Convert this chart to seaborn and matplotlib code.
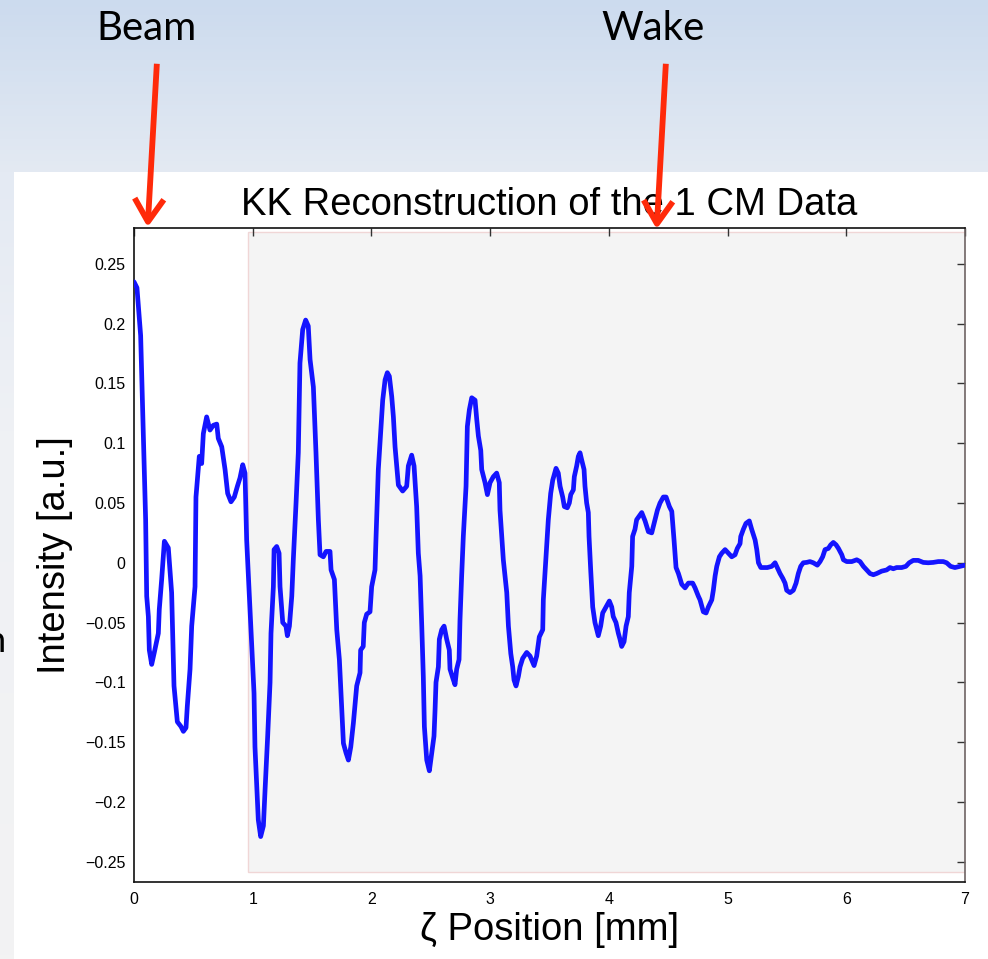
import numpy as np
import pandas as pd
import seaborn as sns
import matplotlib
matplotlib.use("Agg")
import matplotlib.pyplot as plt
from matplotlib.patches import Rectangle, FancyArrowPatch
from matplotlib.colors import LinearSegmentedColormap

# Reconstructed longitudinal profile (zeta in mm, intensity in a.u.)
zeta_mm = [
    0.000, 0.025, 0.056, 0.079, 0.098, 0.107, 0.121, 0.129, 0.149, 0.171, 0.205, 0.213, 0.233,
    0.245, 0.256, 0.289, 0.317, 0.337, 0.365, 0.396, 0.416, 0.438, 0.449, 0.472, 0.486, 0.514,
    0.522, 0.550, 0.570, 0.584, 0.612, 0.640, 0.668, 0.697, 0.710, 0.739, 0.767, 0.789, 0.817,
    0.845, 0.871, 0.893, 0.916, 0.935, 0.949, 0.991, 1.011, 1.019, 1.047, 1.067, 1.090, 1.104,
    1.126, 1.146, 1.154, 1.174, 1.180, 1.202, 1.222, 1.230, 1.253, 1.280, 1.292, 1.309, 1.329,
    1.342, 1.365, 1.384, 1.398, 1.421, 1.446, 1.468, 1.483, 1.511, 1.533, 1.553, 1.567, 1.595,
    1.618, 1.651, 1.660, 1.688, 1.708, 1.730, 1.750, 1.764, 1.786, 1.806, 1.826, 1.848, 1.876,
    1.904, 1.909, 1.931, 1.940, 1.960, 1.988, 2.002, 2.030, 2.039, 2.058, 2.095, 2.115, 2.134,
    2.151, 2.171, 2.185, 2.199, 2.227, 2.263, 2.297, 2.311, 2.339, 2.359, 2.381, 2.395, 2.410,
    2.424, 2.437, 2.446, 2.466, 2.488, 2.508, 2.527, 2.536, 2.544, 2.564, 2.572, 2.592, 2.612,
    2.634, 2.656, 2.662, 2.684, 2.704, 2.718, 2.738, 2.746, 2.760, 2.774, 2.797, 2.808, 2.825,
    2.845, 2.873, 2.887, 2.901, 2.921, 2.929, 2.957, 2.977, 2.999, 3.027, 3.055, 3.077, 3.083,
    3.111, 3.140, 3.154, 3.174, 3.190, 3.201, 3.218, 3.238, 3.252, 3.274, 3.308, 3.336, 3.370,
    3.392, 3.414, 3.443, 3.448, 3.462, 3.490, 3.510, 3.527, 3.555, 3.574, 3.589, 3.611, 3.625,
    3.650, 3.667, 3.679, 3.701, 3.709, 3.729, 3.743, 3.757, 3.771, 3.791, 3.799, 3.813, 3.827,
    3.833, 3.847, 3.864, 3.883, 3.911, 3.931, 3.948, 3.976, 4.004, 4.024, 4.037, 4.060, 4.080,
    4.094, 4.108, 4.128, 4.145, 4.164, 4.172, 4.193, 4.200, 4.220, 4.234, 4.256, 4.277, 4.305,
    4.333, 4.361, 4.389, 4.409, 4.431, 4.459, 4.482, 4.510, 4.530, 4.549, 4.566, 4.586, 4.614,
    4.642, 4.670, 4.706, 4.726, 4.754, 4.768, 4.796, 4.819, 4.838, 4.867, 4.880, 4.895, 4.909,
    4.931, 4.951, 4.979, 5.007, 5.035, 5.063, 5.082, 5.105, 5.111, 5.133, 5.155, 5.183, 5.203,
    5.232, 5.246, 5.260, 5.280, 5.307, 5.335, 5.372, 5.400, 5.419, 5.442, 5.465, 5.484, 5.498,
    5.526, 5.554, 5.577, 5.596, 5.616, 5.638, 5.666, 5.694, 5.722, 5.756, 5.779, 5.801, 5.821,
    5.849, 5.869, 5.891, 5.914, 5.934, 5.962, 5.976, 6.004, 6.046, 6.088, 6.116, 6.144, 6.172,
    6.200, 6.228, 6.256, 6.298, 6.340, 6.368, 6.396, 6.424, 6.466, 6.502, 6.530, 6.564, 6.606,
    6.648, 6.690, 6.732, 6.775, 6.817, 6.845, 6.879, 6.915, 6.957, 7.000,
]
intensity = [
    0.235, 0.230, 0.190, 0.106, 0.036, -0.028, -0.045, -0.073, -0.085, -0.075, -0.059, -0.039, -0.014,
    0.003, 0.018, 0.0125, -0.025, -0.103, -0.133, -0.137, -0.141, -0.138, -0.120, -0.089, -0.053, -0.020,
    0.055, 0.089, 0.083, 0.108, 0.122, 0.111, 0.115, 0.116, 0.104, 0.097, 0.078, 0.058, 0.051,
    0.055, 0.064, 0.071, 0.082, 0.075, 0.019, -0.067, -0.109, -0.154, -0.215, -0.229, -0.220, -0.190,
    -0.145, -0.100, -0.059, -0.020, 0.011, 0.0136, 0.008, -0.020, -0.050, -0.053, -0.061, -0.053, -0.028,
    0.0025, 0.050, 0.092, 0.167, 0.195, 0.203, 0.198, 0.170, 0.147, 0.092, 0.036, 0.0067, 0.005,
    0.0095, 0.0095, -0.006, -0.014, -0.056, -0.081, -0.123, -0.151, -0.159, -0.165, -0.154, -0.134, -0.103,
    -0.092, -0.073, -0.070, -0.050, -0.043, -0.041, -0.020, -0.006, 0.022, 0.078, 0.136, 0.153, 0.159,
    0.156, 0.139, 0.122, 0.097, 0.065, 0.060, 0.064, 0.081, 0.090, 0.081, 0.047, 0.008, -0.011,
    -0.053, -0.095, -0.137, -0.165, -0.174, -0.159, -0.145, -0.123, -0.100, -0.087, -0.064, -0.056, -0.053,
    -0.064, -0.073, -0.089, -0.096, -0.102, -0.089, -0.081, -0.048, -0.011, 0.022, 0.064, 0.114, 0.128,
    0.138, 0.136, 0.120, 0.106, 0.094, 0.078, 0.067, 0.057, 0.067, 0.072, 0.075, 0.067, 0.044,
    0.0025, -0.025, -0.053, -0.076, -0.087, -0.098, -0.103, -0.095, -0.087, -0.080, -0.075, -0.078, -0.086,
    -0.078, -0.062, -0.056, -0.031, -0.009, 0.036, 0.058, 0.069, 0.079, 0.075, 0.064, 0.055, 0.047,
    0.046, 0.050, 0.057, 0.061, 0.072, 0.081, 0.089, 0.092, 0.086, 0.078, 0.064, 0.050, 0.042,
    0.022, -0.006, -0.037, -0.050, -0.061, -0.053, -0.042, -0.037, -0.032, -0.037, -0.045, -0.050, -0.059,
    -0.064, -0.070, -0.066, -0.053, -0.045, -0.025, -0.003, 0.022, 0.028, 0.036, 0.039, 0.042, 0.035,
    0.026, 0.025, 0.036, 0.044, 0.050, 0.055, 0.055, 0.047, 0.043, 0.019, -0.004, -0.009, -0.018,
    -0.021, -0.017, -0.017, -0.021, -0.028, -0.031, -0.041, -0.042, -0.037, -0.031, -0.023, -0.011, -0.003,
    0.005, 0.008, 0.011, 0.008, 0.005, 0.0067, 0.012, 0.016, 0.022, 0.028, 0.033, 0.035, 0.028,
    0.019, 0.011, 0.000, -0.004, -0.004, -0.004, -0.003, 0.000, -0.004, -0.009, -0.013, -0.017, -0.023,
    -0.025, -0.023, -0.017, -0.009, -0.003, 0.000, 0.0003, 0.001, 0.000, -0.002, 0.001, 0.005, 0.011,
    0.012, 0.015, 0.017, 0.015, 0.012, 0.0067, 0.0025, 0.001, 0.001, 0.0025, 0.001, -0.003, -0.006,
    -0.009, -0.010, -0.009, -0.007, -0.006, -0.004, -0.005, -0.004, -0.004, -0.003, 0.000, 0.002, 0.002,
    0.0003, 0.000, 0.0003, 0.001, 0.001, 0.000, -0.003, -0.004, -0.003, -0.002,
]

x_ticks = [0, 1, 2, 3, 4, 5, 6, 7]
x_tick_labels = ["0", "1", "2", "3", "4", "5", "6", "7"]
y_ticks = [-0.25, -0.2, -0.15, -0.1, -0.05, 0, 0.05, 0.1, 0.15, 0.2, 0.25]
y_tick_labels = ["\u22120.25", "\u22120.2", "\u22120.15", "\u22120.1", "\u22120.05", "0",
                 "0.05", "0.1", "0.15", "0.2", "0.25"]

wake_start_mm = 0.96
annotations = ["Beam", "Wake"]

df = pd.DataFrame({"zeta": zeta_mm, "intensity": intensity})

sns.set_style("white")
plt.rcParams["font.family"] = ["Liberation Sans", "DejaVu Sans"]
plt.rcParams["text.color"] = "black"
plt.rcParams["axes.labelcolor"] = "black"

W, H = 988, 959
fig = plt.figure(figsize=(W / 100, H / 100), dpi=100)

# slide background: pale blue gradient fading to light gray
bg = fig.add_axes([0, 0, 1, 1], zorder=-10)
cmap = LinearSegmentedColormap.from_list(
    "slide", [(0.0, "#ccdbee"), (0.18, "#e4eaf3"), (0.45, "#eff1f5"), (1.0, "#f3f3f3")])
bg.imshow(np.linspace(0, 1, 256).reshape(-1, 1), aspect="auto", cmap=cmap,
          extent=[0, 1, 0, 1], origin="upper")
bg.set_axis_off()
# white figure panel
bg.add_patch(Rectangle((14 / W, 0), 1 - 14 / W, 1 - 172 / H, transform=bg.transAxes,
                       facecolor="white", edgecolor="none", zorder=2))
# clipped word from the neighbouring text box
bg.text(-14 / W, 1 - 652 / H, "n", transform=bg.transAxes, fontsize=26,
        family=["Lato", "DejaVu Sans"], color="black", va="baseline", ha="left", zorder=1)

ax = fig.add_axes([134 / W, 1 - 882 / H, (965 - 134) / W, (882 - 228) / H])
ax.set_facecolor("white")

# shaded wake region
ax.axvspan(wake_start_mm, 7.0, ymin=10 / 654, ymax=650 / 654,
           facecolor="#f4f4f4", edgecolor="#f0d6d6", lw=1.0, zorder=0)

sns.lineplot(data=df, x="zeta", y="intensity", ax=ax, color="#1414ff", lw=3.4,
             estimator=None, sort=False, zorder=3)

ax.set_xlim(0, 7)
ax.set_ylim(-0.267, 0.280)
ax.set_xticks(x_ticks)
ax.set_xticklabels(x_tick_labels)
ax.set_yticks(y_ticks)
ax.set_yticklabels(y_tick_labels)
ax.tick_params(direction="in", length=6, width=1.0, color="#333333",
               top=True, right=True, labelsize=11.5, labelcolor="black")
ax.tick_params(axis="x", pad=7)
ax.tick_params(axis="y", pad=6)
for side, sp in ax.spines.items():
    sp.set_visible(True)
    sp.set_linewidth(1.2)
    sp.set_color("#111111")
ax.spines["right"].set_color("#6e6464")

ax.set_title("KK Reconstruction of the 1 CM Data", fontsize=27.5, pad=9, color="black")
ax.set_xlabel("\u03b6 Position [mm]", fontsize=27.5, labelpad=4)
ax.set_ylabel("Intensity [a.u.]", fontsize=27.5, labelpad=9)

# slide labels with arrows
label_font = ["Lato", "DejaVu Sans"]
for text, tx, arrow_top, arrow_tip in [
    (annotations[0], 147, (157, 61), (147.5, 230)),
    (annotations[1], 653, (666, 61), (656.5, 232)),
]:
    fig.text(tx / W, 1 - 29 / H, text, ha="center", va="center", fontsize=29,
             family=label_font, color="black")
    arr = FancyArrowPatch((arrow_top[0] / W, 1 - arrow_top[1] / H),
                          (arrow_tip[0] / W, 1 - arrow_tip[1] / H),
                          transform=fig.transFigure,
                          arrowstyle="->,head_length=0.55,head_width=0.35",
                          mutation_scale=30, color="#ff2a0a", lw=4.2,
                          capstyle="butt", zorder=20)
    fig.add_artist(arr)

fig.savefig("out.png", dpi=100)
